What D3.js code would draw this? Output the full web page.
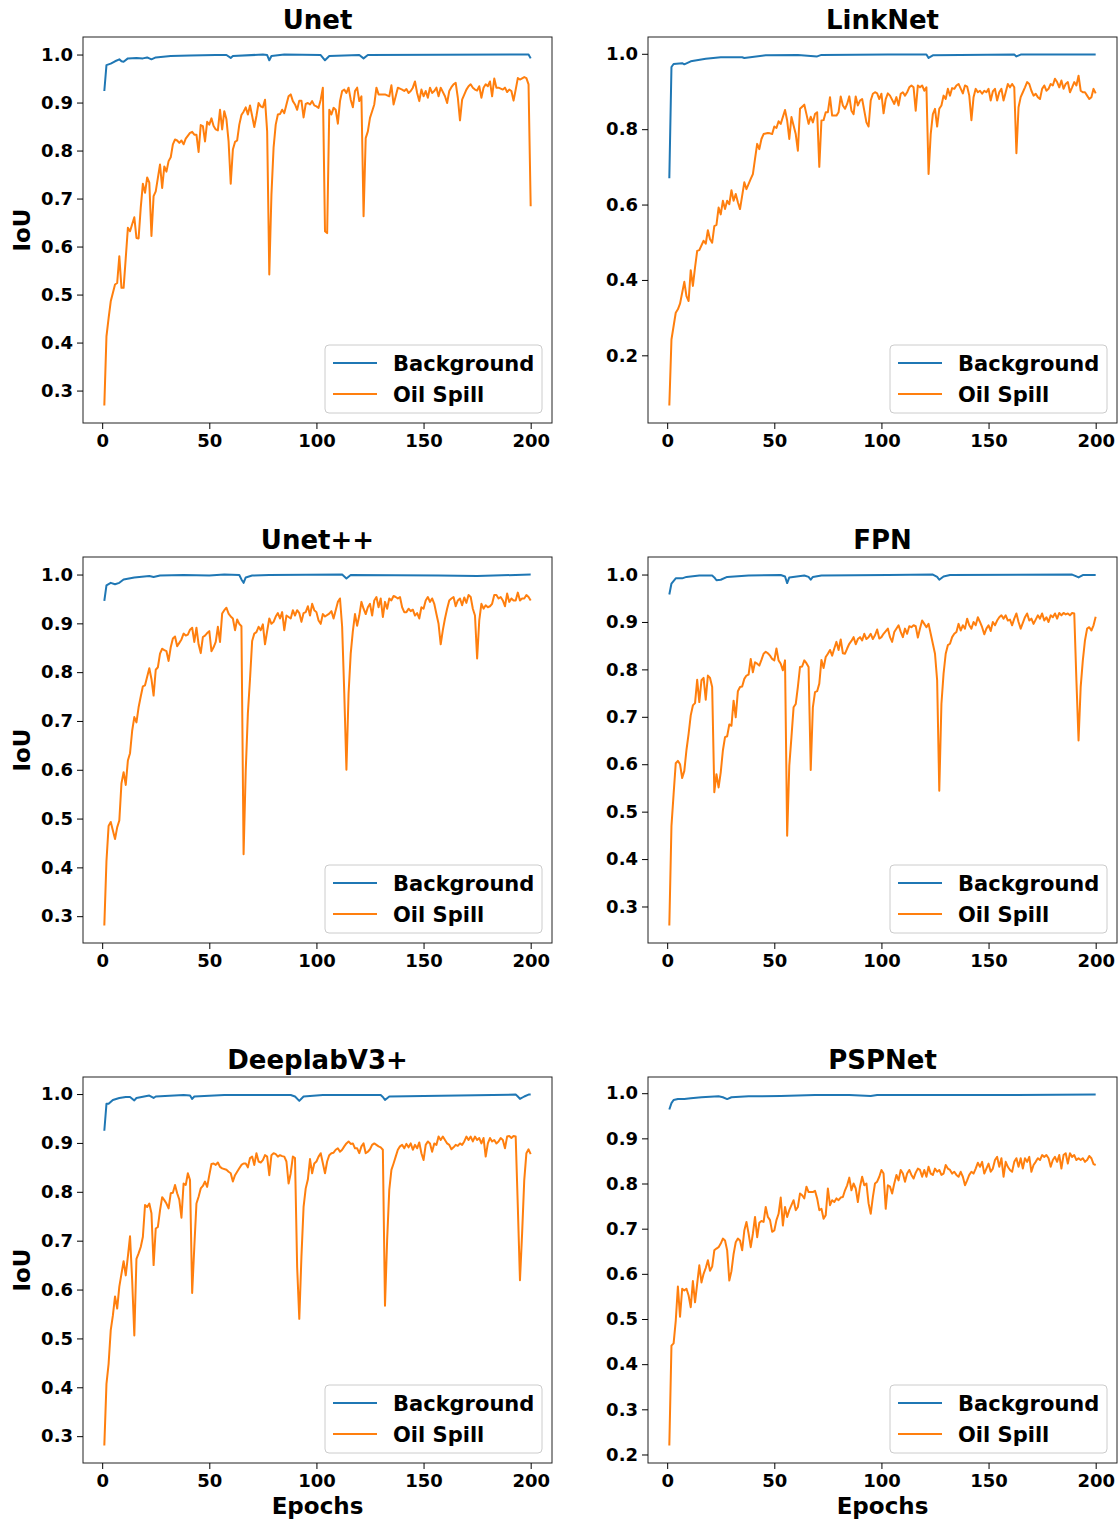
<!DOCTYPE html>
<html>
<head>
<meta charset="utf-8">
<script src="https://cdnjs.cloudflare.com/ajax/libs/d3/7.8.5/d3.min.js"></script>
<style>
  body { margin: 0; background: #fff; }
  svg { display: block; font-family: "DejaVu Sans", sans-serif; font-weight: bold; }
</style>
</head>
<body>
<svg id="chart" width="1120" height="1525"></svg>
<script>
// IoU per epoch: [epoch, value]
const unetBg = [[1,.924],[2,.978],[4,.981],[6,.986],[8,.990],[9,.986],[10,.985],[12,.992],[16,.993],[19,.992],[21,.994],[23,.990],[25,.994],[32,.997],[41,.998],[53,.999],[58,.999],[60,.993],[61,.997],[75,1.0],[77,.999],[78,.988],[79,.997],[85,1.0],[102,.999],[104,.988],[106,.997],[120,.999],[122,.992],[124,.999],[199,1.0],[200,.992]];
const unetOil = [[1,.269],[2,.413],[3,.451],[4,.486],[6,.521],[7,.524],[8,.580],[9,.514],[10,.514],[11,.576],[12,.639],[13,.632],[15,.661],[16,.618],[17,.617],[18,.681],[19,.731],[20,.712],[21,.744],[22,.733],[23,.622],[24,.705],[25,.715],[26,.743],[27,.771],[28,.722],[29,.767],[30,.756],[31,.778],[32,.786],[33,.813],[34,.823],[35,.821],[36,.816],[37,.821],[38,.813],[39,.825],[41,.837],[42,.839],[43,.833],[44,.833],[45,.797],[46,.853],[47,.851],[48,.819],[49,.860],[50,.854],[51,.867],[52,.851],[53,.844],[54,.842],[55,.885],[56,.844],[57,.882],[58,.865],[59,.819],[60,.731],[61,.802],[62,.818],[63,.821],[64,.854],[65,.874],[66,.881],[67,.890],[68,.875],[69,.894],[70,.872],[71,.849],[72,.872],[73,.899],[74,.892],[75,.890],[76,.906],[77,.840],[78,.542],[79,.708],[80,.806],[81,.854],[82,.875],[83,.876],[84,.885],[85,.878],[86,.896],[87,.913],[88,.917],[89,.903],[90,.896],[91,.885],[92,.904],[93,.904],[94,.869],[95,.897],[96,.899],[97,.896],[98,.903],[99,.894],[100,.892],[101,.889],[102,.906],[103,.931],[104,.632],[105,.628],[106,.885],[107,.875],[108,.889],[109,.885],[110,.856],[111,.903],[112,.924],[113,.927],[114,.920],[115,.931],[116,.906],[117,.890],[118,.924],[119,.931],[120,.903],[121,.913],[122,.663],[123,.826],[124,.840],[125,.868],[126,.882],[127,.896],[128,.931],[129,.917],[131,.917],[132,.917],[133,.915],[134,.913],[135,.936],[136,.896],[137,.913],[138,.931],[140,.927],[141,.924],[142,.928],[143,.920],[144,.924],[145,.931],[146,.944],[147,.920],[148,.903],[149,.927],[150,.913],[151,.924],[152,.910],[153,.931],[154,.920],[155,.924],[156,.931],[157,.913],[158,.931],[160,.913],[161,.899],[162,.924],[163,.932],[164,.938],[165,.941],[166,.910],[167,.863],[168,.906],[170,.927],[171,.934],[172,.938],[173,.931],[174,.927],[175,.925],[176,.934],[177,.910],[178,.931],[179,.938],[180,.934],[181,.944],[182,.913],[183,.950],[184,.931],[185,.931],[187,.927],[188,.931],[189,.922],[190,.927],[191,.924],[192,.904],[193,.927],[194,.951],[195,.948],[197,.953],[198,.951],[199,.938],[200,.684]];

const linkBg = [[1,.670],[2,.965],[3,.973],[7,.975],[8,.972],[11,.980],[18,.987],[25,.991],[35,.991],[36,.989],[46,.996],[61,.997],[70,.993],[72,.997],[103,.998],[121,.998],[122,.989],[124,.996],[162,.998],[163,.993],[165,.998],[200,.998]];
const linkOil = [[1,.067],[2,.242],[4,.313],[5,.322],[6,.337],[8,.395],[9,.357],[10,.344],[11,.426],[12,.384],[13,.433],[14,.477],[15,.479],[17,.504],[18,.496],[19,.532],[20,.508],[21,.499],[22,.543],[23,.546],[24,.592],[25,.574],[26,.610],[27,.588],[28,.610],[29,.601],[30,.638],[31,.610],[32,.628],[33,.606],[34,.588],[36,.659],[37,.641],[39,.668],[40,.681],[41,.721],[42,.761],[43,.747],[44,.774],[45,.787],[47,.790],[48,.789],[49,.787],[50,.807],[51,.803],[52,.821],[53,.814],[55,.851],[56,.823],[57,.774],[58,.832],[60,.787],[61,.743],[62,.854],[64,.865],[65,.840],[66,.814],[67,.833],[68,.818],[69,.840],[70,.845],[71,.700],[72,.823],[73,.824],[74,.845],[75,.845],[76,.885],[77,.836],[79,.836],[80,.845],[81,.887],[82,.863],[83,.854],[84,.867],[85,.887],[86,.849],[87,.840],[88,.887],[89,.863],[90,.876],[91,.880],[93,.818],[94,.807],[95,.876],[96,.894],[97,.898],[98,.895],[99,.880],[100,.894],[101,.842],[102,.880],[103,.895],[104,.889],[106,.867],[107,.885],[108,.863],[109,.894],[110,.898],[111,.889],[112,.898],[113,.911],[114,.916],[115,.911],[116,.849],[117,.916],[118,.911],[119,.916],[120,.902],[121,.911],[122,.681],[123,.787],[124,.840],[125,.854],[126,.807],[127,.854],[128,.863],[129,.889],[130,.880],[131,.907],[132,.889],[133,.909],[134,.907],[135,.916],[136,.920],[138,.895],[139,.916],[140,.913],[141,.889],[142,.824],[143,.885],[144,.907],[145,.898],[146,.902],[147,.894],[148,.902],[149,.898],[150,.907],[151,.876],[152,.900],[153,.907],[154,.876],[155,.898],[156,.907],[157,.876],[158,.898],[159,.920],[160,.911],[161,.920],[162,.911],[163,.736],[164,.858],[165,.885],[166,.898],[167,.911],[168,.925],[169,.920],[170,.902],[171,.889],[172,.894],[173,.885],[174,.880],[175,.907],[176,.916],[177,.902],[178,.907],[179,.920],[180,.916],[181,.934],[182,.925],[183,.911],[184,.929],[185,.907],[186,.920],[187,.925],[188,.898],[189,.911],[190,.925],[191,.916],[192,.942],[193,.902],[194,.898],[195,.898],[196,.889],[197,.880],[198,.885],[199,.907],[200,.895]];

const unetppBg = [[1,.946],[2,.978],[4,.983],[6,.980],[8,.983],[10,.990],[15,.994],[22,.997],[24,.995],[27,.998],[38,.999],[50,.998],[57,1.0],[64,.999],[65,.990],[66,.983],[67,.994],[70,.998],[78,.999],[112,1.0],[114,.992],[116,.999],[157,.998],[175,.997],[200,1.0]];
const unetppOil = [[1,.281],[2,.413],[3,.485],[4,.493],[6,.458],[7,.482],[8,.496],[9,.572],[10,.595],[11,.569],[12,.619],[13,.634],[14,.680],[15,.708],[16,.697],[17,.728],[18,.750],[19,.771],[20,.773],[22,.808],[23,.786],[24,.752],[25,.805],[26,.810],[27,.838],[28,.848],[29,.845],[30,.843],[31,.823],[32,.851],[33,.869],[34,.873],[35,.853],[36,.860],[37,.867],[38,.879],[39,.875],[40,.877],[41,.887],[42,.891],[43,.862],[44,.891],[45,.857],[46,.839],[47,.872],[48,.875],[49,.880],[50,.884],[51,.843],[52,.851],[53,.862],[54,.893],[55,.862],[56,.920],[57,.927],[58,.932],[59,.920],[60,.914],[61,.910],[62,.886],[63,.908],[64,.899],[65,.894],[66,.427],[67,.598],[68,.715],[69,.786],[70,.864],[71,.879],[72,.882],[73,.893],[74,.886],[75,.898],[76,.857],[77,.884],[78,.910],[79,.899],[80,.903],[81,.914],[82,.921],[83,.910],[84,.923],[85,.886],[86,.916],[87,.913],[88,.910],[89,.927],[90,.916],[91,.927],[92,.921],[93,.903],[94,.921],[95,.923],[96,.935],[97,.916],[98,.940],[99,.927],[100,.923],[101,.906],[102,.899],[103,.919],[104,.914],[106,.920],[107,.925],[108,.910],[110,.944],[111,.951],[112,.893],[113,.756],[114,.600],[115,.756],[116,.838],[117,.884],[118,.919],[119,.895],[120,.916],[121,.944],[122,.930],[123,.919],[124,.933],[125,.940],[126,.916],[127,.947],[128,.954],[129,.933],[130,.951],[131,.913],[132,.944],[133,.930],[134,.951],[135,.947],[136,.956],[137,.954],[138,.951],[139,.954],[140,.933],[141,.923],[142,.923],[143,.930],[144,.925],[145,.928],[146,.916],[147,.921],[148,.910],[149,.933],[150,.930],[151,.947],[152,.954],[153,.944],[154,.951],[155,.940],[156,.919],[157,.899],[158,.857],[159,.886],[160,.910],[161,.930],[162,.947],[163,.951],[164,.954],[165,.935],[166,.947],[167,.951],[168,.937],[169,.953],[170,.942],[171,.958],[172,.954],[173,.930],[174,.916],[175,.828],[176,.906],[177,.940],[178,.930],[179,.937],[180,.933],[181,.935],[182,.940],[183,.958],[184,.958],[185,.951],[186,.954],[187,.947],[188,.935],[189,.961],[190,.944],[191,.951],[192,.947],[193,.947],[194,.963],[195,.947],[196,.951],[197,.951],[198,.958],[199,.954],[200,.947]];

const fpnBg = [[1,.958],[2,.981],[4,.992],[7,.992],[9,.995],[15,.998],[21,.998],[22,.994],[23,.988],[25,.989],[28,.995],[38,.998],[53,.999],[55,.996],[56,.982],[57,.994],[64,.998],[66,.995],[67,.989],[68,.995],[72,.998],[103,.999],[124,1.0],[126,.995],[127,.989],[129,.996],[132,.999],[189,1.0],[191,.996],[192,.994],[194,.999],[200,.999]];
const fpnOil = [[1,.260],[2,.470],[3,.537],[4,.602],[5,.607],[6,.600],[7,.571],[8,.586],[9,.630],[10,.664],[11,.703],[12,.724],[13,.729],[14,.778],[15,.731],[16,.777],[17,.782],[18,.736],[19,.787],[20,.782],[21,.763],[22,.541],[23,.579],[24,.551],[25,.583],[26,.629],[27,.657],[28,.659],[29,.684],[30,.681],[31,.734],[32,.699],[33,.754],[34,.763],[35,.764],[36,.780],[37,.787],[38,.789],[39,.822],[40,.794],[41,.815],[42,.812],[43,.808],[44,.820],[45,.833],[46,.837],[47,.834],[48,.829],[49,.822],[50,.819],[51,.844],[52,.819],[53,.812],[54,.798],[55,.819],[56,.449],[57,.597],[58,.657],[59,.720],[60,.727],[61,.763],[62,.805],[63,.806],[64,.819],[65,.813],[66,.805],[67,.588],[68,.720],[69,.752],[70,.754],[71,.770],[72,.820],[73,.803],[74,.826],[75,.833],[76,.841],[77,.829],[78,.844],[79,.858],[80,.841],[81,.863],[82,.834],[83,.833],[84,.844],[85,.854],[86,.860],[87,.868],[88,.853],[89,.864],[90,.868],[91,.861],[92,.875],[93,.864],[94,.868],[95,.875],[96,.864],[97,.872],[98,.884],[99,.865],[100,.868],[101,.875],[103,.886],[104,.868],[105,.858],[106,.879],[108,.893],[109,.879],[110,.868],[111,.886],[112,.875],[113,.891],[114,.889],[115,.893],[116,.891],[117,.867],[118,.886],[119,.903],[120,.896],[121,.889],[122,.896],[123,.875],[124,.854],[125,.833],[126,.777],[127,.544],[128,.727],[129,.791],[130,.833],[131,.851],[132,.854],[133,.868],[134,.875],[135,.879],[136,.896],[137,.882],[138,.893],[139,.886],[140,.907],[141,.893],[142,.886],[143,.900],[144,.893],[145,.910],[146,.900],[147,.889],[148,.874],[149,.886],[150,.893],[151,.881],[152,.900],[153,.893],[154,.903],[155,.910],[156,.914],[157,.907],[158,.914],[159,.903],[160,.905],[161,.893],[162,.907],[163,.918],[164,.900],[165,.886],[166,.898],[167,.910],[168,.918],[169,.903],[170,.907],[171,.896],[172,.905],[173,.914],[174,.907],[175,.918],[176,.903],[177,.910],[178,.900],[179,.914],[180,.910],[181,.918],[182,.907],[183,.919],[184,.914],[185,.919],[186,.916],[187,.918],[188,.914],[189,.919],[190,.918],[191,.777],[192,.650],[193,.763],[194,.819],[195,.861],[196,.886],[197,.889],[198,.882],[199,.893],[200,.911]];

const deeplabBg = [[1,.925],[2,.980],[3,.980],[5,.988],[8,.992],[11,.994],[13,.994],[15,.987],[16,.992],[22,.997],[24,.992],[25,.995],[38,.998],[41,.997],[42,.990],[43,.995],[57,.998],[88,.998],[90,.995],[92,.986],[94,.995],[103,.998],[130,.998],[131,.994],[132,.988],[134,.995],[193,.999],[194,.995],[195,.990],[197,.995],[199,.999],[200,.999]];
const deeplabOil = [[1,.281],[2,.407],[3,.448],[4,.517],[5,.547],[6,.586],[7,.561],[8,.606],[9,.632],[10,.658],[11,.629],[12,.668],[13,.709],[14,.619],[15,.506],[16,.663],[17,.674],[18,.687],[19,.708],[20,.773],[21,.769],[22,.776],[23,.756],[24,.650],[25,.725],[26,.728],[27,.762],[28,.789],[29,.783],[30,.776],[31,.766],[32,.797],[33,.798],[34,.814],[35,.797],[36,.784],[37,.747],[38,.817],[39,.814],[40,.838],[41,.824],[42,.593],[43,.687],[44,.776],[45,.790],[46,.807],[47,.812],[48,.821],[49,.810],[50,.834],[51,.857],[52,.858],[53,.855],[54,.860],[55,.851],[56,.848],[58,.845],[59,.841],[60,.838],[61,.821],[62,.834],[63,.841],[64,.848],[65,.855],[66,.858],[67,.858],[68,.850],[69,.869],[70,.872],[71,.855],[72,.879],[73,.862],[74,.860],[75,.865],[76,.875],[77,.872],[78,.834],[79,.875],[80,.879],[81,.877],[82,.872],[83,.875],[84,.873],[85,.872],[86,.862],[87,.817],[88,.838],[89,.872],[90,.869],[91,.646],[92,.540],[93,.667],[94,.769],[95,.807],[96,.825],[97,.867],[98,.838],[99,.858],[100,.862],[101,.872],[102,.879],[104,.838],[105,.862],[106,.875],[107,.879],[108,.880],[109,.886],[110,.889],[111,.882],[112,.886],[113,.893],[114,.899],[115,.903],[116,.898],[117,.899],[118,.889],[119,.889],[120,.879],[121,.893],[122,.899],[123,.879],[124,.882],[125,.887],[126,.896],[127,.899],[128,.896],[129,.893],[130,.891],[131,.886],[132,.567],[133,.701],[134,.804],[135,.845],[136,.858],[137,.872],[138,.886],[139,.893],[140,.896],[141,.889],[142,.898],[143,.891],[144,.899],[145,.886],[146,.896],[147,.889],[148,.901],[149,.879],[150,.865],[151,.896],[152,.903],[153,.899],[154,.882],[155,.899],[156,.896],[157,.913],[158,.906],[159,.913],[160,.906],[161,.899],[162,.896],[163,.887],[164,.891],[165,.896],[166,.894],[167,.899],[168,.896],[169,.903],[170,.913],[171,.906],[172,.913],[173,.903],[174,.913],[175,.906],[176,.910],[177,.899],[178,.910],[179,.872],[180,.899],[181,.910],[182,.903],[183,.906],[184,.899],[185,.903],[186,.910],[187,.906],[188,.889],[189,.913],[190,.914],[191,.910],[192,.914],[193,.913],[194,.769],[195,.619],[196,.715],[197,.824],[198,.879],[199,.887],[200,.877]];

const pspBg = [[1,.964],[2,.978],[3,.985],[5,.987],[8,.987],[11,.989],[16,.991],[24,.993],[26,.991],[28,.987],[30,.991],[38,.993],[53,.994],[69,.996],[85,.996],[95,.994],[98,.996],[103,.996],[106,.996],[138,.996],[162,.996],[200,.997]];
const pspOil = [[1,.220],[2,.441],[3,.446],[4,.496],[5,.572],[6,.505],[7,.567],[8,.563],[9,.567],[10,.552],[11,.526],[12,.584],[13,.537],[14,.578],[15,.619],[16,.581],[17,.600],[18,.613],[19,.630],[20,.607],[21,.616],[22,.652],[23,.656],[24,.659],[25,.667],[26,.678],[27,.674],[28,.652],[29,.585],[30,.606],[31,.644],[32,.670],[33,.678],[34,.674],[35,.652],[36,.696],[37,.715],[38,.689],[39,.659],[40,.689],[41,.726],[42,.681],[43,.713],[44,.717],[45,.715],[46,.748],[47,.726],[48,.719],[49,.693],[50,.696],[51,.719],[52,.733],[53,.769],[54,.707],[55,.748],[56,.726],[57,.741],[58,.752],[59,.763],[60,.741],[61,.748],[62,.778],[63,.774],[64,.767],[65,.793],[66,.781],[67,.781],[68,.781],[69,.784],[70,.767],[71,.741],[72,.744],[73,.722],[74,.730],[75,.789],[76,.752],[77,.763],[78,.759],[79,.767],[80,.763],[81,.769],[82,.770],[83,.785],[84,.796],[85,.813],[86,.785],[87,.800],[88,.789],[89,.759],[90,.793],[91,.815],[92,.796],[93,.800],[94,.756],[95,.733],[96,.770],[97,.800],[98,.804],[99,.815],[100,.830],[101,.822],[102,.744],[103,.796],[104,.793],[105,.778],[106,.800],[107,.819],[108,.807],[109,.830],[110,.822],[111,.804],[112,.822],[113,.830],[114,.819],[115,.811],[116,.824],[117,.833],[118,.830],[119,.815],[120,.830],[121,.815],[122,.837],[123,.822],[124,.819],[125,.833],[126,.826],[127,.830],[128,.819],[129,.822],[130,.841],[131,.833],[132,.830],[133,.822],[134,.826],[135,.819],[136,.815],[137,.826],[138,.815],[139,.796],[140,.807],[141,.819],[142,.826],[143,.822],[144,.833],[145,.846],[146,.837],[147,.848],[148,.822],[149,.833],[150,.844],[151,.826],[152,.833],[153,.852],[154,.859],[155,.837],[156,.856],[157,.815],[158,.848],[159,.837],[160,.830],[161,.826],[162,.848],[163,.856],[164,.837],[165,.856],[166,.833],[167,.856],[168,.848],[169,.859],[170,.826],[171,.841],[172,.848],[173,.856],[174,.852],[175,.863],[176,.859],[177,.863],[178,.856],[179,.837],[180,.852],[181,.859],[182,.848],[183,.863],[184,.833],[185,.863],[186,.867],[187,.844],[188,.867],[189,.859],[190,.863],[191,.852],[192,.856],[193,.852],[194,.856],[195,.848],[196,.852],[197,.861],[198,.856],[199,.843],[200,.841]];

const xTicks = [0, 50, 100, 150, 200];
const yTicksStd = [0.3, 0.4, 0.5, 0.6, 0.7, 0.8, 0.9, 1.0];
const yTicksLink = [0.2, 0.4, 0.6, 0.8, 1.0];
const yTicksPsp = [0.2, 0.3, 0.4, 0.5, 0.6, 0.7, 0.8, 0.9, 1.0];
const seriesNames = ['Background', 'Oil Spill'];
const colors = ['#1f77b4', '#ff7f0e'];

const panels = [
  {title: 'Unet', bg: unetBg, oil: unetOil, yTicks: yTicksStd, col: 0, row: 0},
  {title: 'LinkNet', bg: linkBg, oil: linkOil, yTicks: yTicksLink, col: 1, row: 0},
  {title: 'Unet++', bg: unetppBg, oil: unetppOil, yTicks: yTicksStd, col: 0, row: 1},
  {title: 'FPN', bg: fpnBg, oil: fpnOil, yTicks: yTicksStd, col: 1, row: 1},
  {title: 'DeeplabV3+', bg: deeplabBg, oil: deeplabOil, yTicks: yTicksStd, col: 0, row: 2},
  {title: 'PSPNet', bg: pspBg, oil: pspOil, yTicks: yTicksPsp, col: 1, row: 2}
];

const colLeft = [83, 648];
const rowTop = [37, 557, 1077];
const W = 469, H = 386;

const svg = d3.select('#chart');

// matplotlib style 5% margins around the data
function padded(ext) {
  const m = (ext[1] - ext[0]) * 0.05;
  return [ext[0] - m, ext[1] + m];
}

panels.forEach(p => {
  const left = colLeft[p.col], top = rowTop[p.row];
  const g = svg.append('g').attr('transform', `translate(${left},${top})`);

  const all = p.bg.concat(p.oil);
  const x = d3.scaleLinear().domain(padded(d3.extent(all, d => d[0]))).range([0, W]);
  const y = d3.scaleLinear().domain(padded(d3.extent(all, d => d[1]))).range([H, 0]);

  const line = d3.line()
    .x(d => x(d[0]))
    .y(d => y(d[1]));

  [p.bg, p.oil].forEach((s, i) => {
    g.append('path')
      .datum(s)
      .attr('fill', 'none')
      .attr('stroke', colors[i])
      .attr('stroke-width', 2)
      .attr('stroke-linejoin', 'round')
      .attr('d', line);
  });

  // frame
  g.append('rect')
    .attr('width', W).attr('height', H)
    .attr('fill', 'none').attr('stroke', '#222').attr('stroke-width', 1);

  const xAxis = g.append('g')
    .attr('transform', `translate(0,${H})`)
    .call(d3.axisBottom(x).tickValues(xTicks).tickSize(6).tickPadding(5).tickFormat(d3.format('d')));
  const yAxis = g.append('g')
    .call(d3.axisLeft(y).tickValues(p.yTicks).tickSize(6).tickPadding(4).tickFormat(d3.format('.1f')));
  [xAxis, yAxis].forEach(a => {
    a.select('.domain').remove();
    a.selectAll('text').attr('font-size', 18).attr('font-weight', 'bold')
      .attr('font-family', '"DejaVu Sans", sans-serif').attr('fill', '#000');
    a.selectAll('line').attr('stroke', '#000');
  });

  g.append('text')
    .attr('x', W / 2).attr('y', -8)
    .attr('text-anchor', 'middle')
    .attr('font-size', 26)
    .text(p.title);

  if (p.col === 0) {
    g.append('text')
      .attr('transform', `translate(${-53},${H / 2}) rotate(-90)`)
      .attr('text-anchor', 'middle')
      .attr('font-size', 23)
      .text('IoU');
  }
  if (p.row === 2) {
    g.append('text')
      .attr('x', W / 2).attr('y', H + 51)
      .attr('text-anchor', 'middle')
      .attr('font-size', 23)
      .text('Epochs');
  }

  // legend, lower right
  const lw = 217, lh = 68;
  const lg = g.append('g').attr('transform', `translate(${W - 10 - lw},${H - 10 - lh})`);
  lg.append('rect')
    .attr('width', lw).attr('height', lh).attr('rx', 4)
    .attr('fill', '#fff').attr('fill-opacity', 0.8)
    .attr('stroke', '#ccc').attr('stroke-width', 1);
  seriesNames.forEach((name, i) => {
    const ly = 18 + i * 31;
    lg.append('line')
      .attr('x1', 8).attr('x2', 52).attr('y1', ly).attr('y2', ly)
      .attr('stroke', colors[i]).attr('stroke-width', 2);
    lg.append('text')
      .attr('x', 68).attr('y', ly).attr('dy', '0.36em')
      .attr('font-size', 21)
      .text(name);
  });
});
</script>
</body>
</html>
